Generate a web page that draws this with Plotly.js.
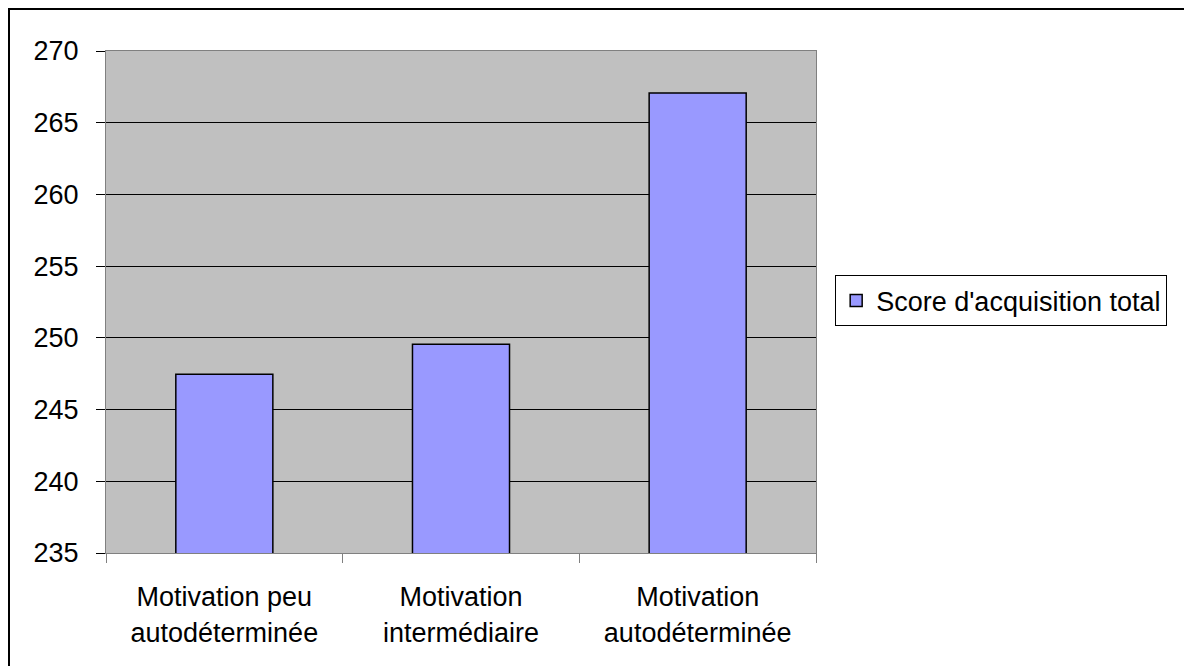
<!DOCTYPE html>
<html>
<head>
<meta charset="utf-8">
<script src="https://cdn.plot.ly/plotly-3.0.1.min.js"></script>
<style>
  html, body { margin: 0; padding: 0; background: #ffffff; overflow: hidden; }
  #wrap { position: relative; width: 1184px; height: 666px; }
  #chart { position: absolute; left: 0; top: 0; width: 1184px; height: 666px; }
  #frame { position: absolute; left: 8px; top: 8px; width: 1300px; height: 800px; border: 2px solid #000; pointer-events: none; }
</style>
</head>
<body>
<div id="wrap">
  <div id="chart"></div>
  <div id="frame"></div>
</div>
<script>
const categories = [
  "Motivation peu<br>autodéterminée",
  "Motivation<br>intermédiaire",
  "Motivation<br>autodéterminée"
];
const seriesName = "Score d'acquisition total";
const scores = [247.47, 249.56, 267.07];
const yTickValues = [235, 240, 245, 250, 255, 260, 265, 270];

const font = { family: "Liberation Sans, Arial, sans-serif", color: "#000000", size: 27 };

const trace = {
  type: "bar",
  x: categories,
  y: scores,
  name: seriesName,
  showlegend: true,
  marker: { color: "#9999ff", line: { color: "#000000", width: 1.5 } },
  hoverinfo: "x+y"
};

const layout = {
  width: 1184,
  height: 666,
  margin: { l: 106, r: 368, t: 51, b: 113, pad: 0 },
  paper_bgcolor: "#ffffff",
  plot_bgcolor: "#c0c0c0",
  font: font,
  bargap: 0.59,
  showlegend: true,
  legend: {
    x: 1.027, xanchor: "left",
    y: 0.502, yanchor: "middle",
    bgcolor: "#ffffff",
    bordercolor: "#000000",
    borderwidth: 1,
    font: { family: font.family, size: 27, color: "#000000" },
    itemwidth: 30,
    tracegroupgap: 0
  },
  xaxis: {
    type: "category",
    tickson: "boundaries",
    ticks: "outside",
    ticklen: 9,
    tickcolor: "#808080",
    ticklabelstandoff: 20,
    showgrid: false,
    showline: true,
    linecolor: "#808080",
    linewidth: 1,
    mirror: true,
    tickfont: font,
    fixedrange: true
  },
  yaxis: {
    range: [235, 270],
    tickvals: yTickValues,
    ticktext: yTickValues.map(String),
    ticks: "outside",
    ticklen: 9,
    tickcolor: "#000000",
    ticklabelstandoff: 12,
    showgrid: true,
    gridcolor: "#000000",
    gridwidth: 1,
    showline: true,
    linecolor: "#808080",
    linewidth: 1,
    mirror: true,
    zeroline: false,
    tickfont: font,
    fixedrange: true
  }
};

Plotly.newPlot("chart", [trace], layout, { displayModeBar: false, staticPlot: true });
</script>
</body>
</html>
